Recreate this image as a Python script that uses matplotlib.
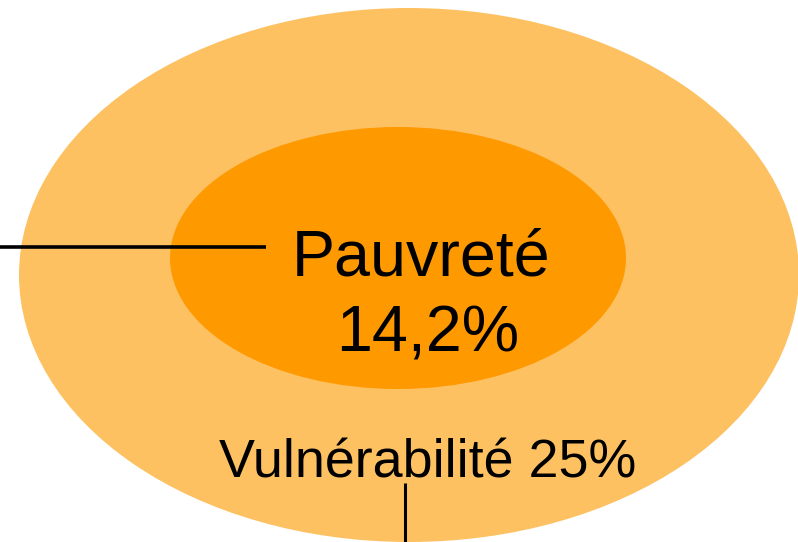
import matplotlib.pyplot as plt
from matplotlib.patches import Ellipse

# data
labels = ["Pauvreté", "Vulnérabilité"]
values = [14.2, 25]
colors = ["#FF9900", "#FDC162"]

plt.rcParams['font.family'] = ['Liberation Sans', 'DejaVu Sans']

fig = plt.figure(figsize=(7.98, 5.42), dpi=100)
ax = fig.add_axes([0, 0, 1, 1])
ax.set_xlim(0, 798)
ax.set_ylim(542, 0)
ax.axis("off")

# outer ellipse (vulnerability) and inner ellipse (poverty)
ax.add_patch(Ellipse((409, 275), 780, 534, color=colors[1], lw=0))
ax.add_patch(Ellipse((398, 258), 456, 262, color=colors[0], lw=0))


def fmt(v):
    s = f"{v:.1f}".rstrip("0").rstrip(".")
    return s.replace(".", ",") + "%"


# labels
ax.text(421, 276, labels[0], fontsize=46.5, ha="center", va="baseline")
ax.text(428, 351, fmt(values[0]), fontsize=46.5, ha="center", va="baseline")
ax.text(428, 477, f"{labels[1]} {fmt(values[1])}", fontsize=38.8,
        ha="center", va="baseline")

# leader lines
ax.plot([0, 266], [247, 247], color="black", lw=2.6, solid_capstyle="butt")
ax.plot([405, 405], [483, 542], color="black", lw=2.2, solid_capstyle="butt")

plt.savefig("out.png", dpi=100)
